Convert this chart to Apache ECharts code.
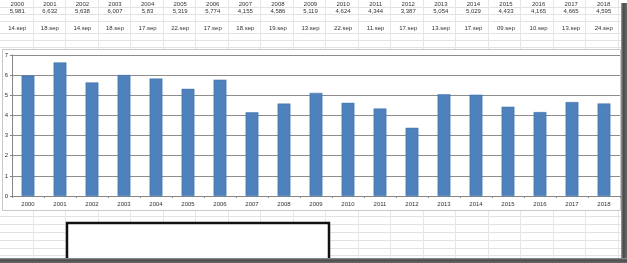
<!DOCTYPE html>
<html><head><meta charset="utf-8">
<script src="https://cdn.jsdelivr.net/npm/echarts@6/dist/echarts.min.js"></script>
<style>html,body{margin:0;padding:0;background:#fff}#c{width:627px;height:263px}</style>
</head><body><div id="c"></div>
<script>
const years = ['2000','2001','2002','2003','2004','2005','2006','2007','2008','2009','2010','2011','2012','2013','2014','2015','2016','2017','2018'];
const values = [5.981,6.632,5.638,6.007,5.83,5.319,5.774,4.155,4.586,5.119,4.624,4.344,3.387,5.054,5.029,4.433,4.165,4.665,4.595];
const dates = ['14.sep','18.sep','14.sep','18.sep','17.sep','22.sep','17.sep','18.sep','19.sep','13.sep','22.sep','11.sep','17.sep','13.sep','17.sep','09.sep','10.sep','13.sep','24.sep'];
const yTicks = [0,1,2,3,4,5,6,7];

const valueLabels = values.map(v => String(v).replace('.', ','));
const FONT = 'Liberation Sans';
const TXT = '#333';

// spreadsheet background lines
const g = [];
const rowYs = [7.5,14.5,21.5,33.5,40.5,47.5,216.5,224.5,232.5,240.5,248.5,255.5];
rowYs.forEach(y => g.push({type:'line', z:-5, shape:{x1:0,y1:y,x2:621,y2:y}, style:{stroke:'#e2e2e2',lineWidth:1}}));
for (let k=1;k<20;k++){ const x=Math.round(k*32.5)+0.5; g.push({type:'line', z:-5, shape:{x1:x,y1:0,x2:x,y2:258}, style:{stroke:'#e6e6e6',lineWidth:1}}); }
// chart area
g.push({type:'rect', z:-4, shape:{x:2.5,y:49.5,width:618,height:161}, style:{fill:'#fff',stroke:'#c8c8c8',lineWidth:1}});
// black box
g.push({type:'rect', z:20, shape:{x:67,y:223,width:262,height:40}, style:{fill:'#fff',stroke:'#111',lineWidth:2.5}});
// shadows
g.push({type:'rect', z:21, shape:{x:621,y:3,width:6,height:260}, style:{fill:{type:'linear',x:0,y:0,x2:1,y2:0,colorStops:[{offset:0,color:'#9a9a9a'},{offset:0.4,color:'#4a4a4a'},{offset:1,color:'#6a6a6a'}]}}});
g.push({type:'rect', z:21, shape:{x:0,y:258,width:627,height:5}, style:{fill:{type:'linear',x:0,y:0,x2:0,y2:1,colorStops:[{offset:0,color:'#9a9a9a'},{offset:0.4,color:'#4a4a4a'},{offset:1,color:'#6a6a6a'}]}}});

const headerRows = [
  {y:4, data: years},
  {y:11.5, data: valueLabels},
  {y:28.5, data: dates}
];

const grids = [{left:12, right:7, top:55, bottom:67}];
const xAxes = [{
  type:'category', data: years, gridIndex:0,
  axisLine:{lineStyle:{color:'#868686'}},
  axisTick:{show:true, alignWithLabel:false, length:2, lineStyle:{color:'#868686'}},
  axisLabel:{fontSize:6, fontFamily:FONT, color:TXT, margin:5}
}];
const yAxes = [{
  type:'value', gridIndex:0, min:0, max:7, interval:1,
  axisLine:{show:true, lineStyle:{color:'#868686'}},
  axisTick:{show:true, length:2, lineStyle:{color:'#868686'}},
  splitLine:{lineStyle:{color:'#8c8c8c', width:1}},
  axisLabel:{fontSize:6, fontFamily:FONT, color:TXT, margin:4,
    formatter: v => yTicks.includes(v) ? String(v) : ''}
}];
headerRows.forEach((r, i) => {
  grids.push({left:1, right:7, top:r.y - 1, height:1});
  xAxes.push({type:'category', data:r.data, gridIndex:i+1,
    axisLine:{show:false}, axisTick:{show:false}, splitLine:{show:false},
    axisLabel:{fontSize:6, fontFamily:FONT, color:TXT, margin:0, verticalAlign:'middle', interval:0}});
  yAxes.push({type:'value', gridIndex:i+1, show:false});
});

const chart = echarts.init(document.getElementById('c'), null, {renderer:'canvas'});
chart.setOption({
  animation:false,
  backgroundColor:'#fff',
  graphic:{elements:g},
  grid:grids, xAxis:xAxes, yAxis:yAxes,
  series:[{type:'bar', data:values, xAxisIndex:0, yAxisIndex:0, barWidth:'40%',
    itemStyle:{color:'#4f81bd', borderColor:'#3d6ea6', borderWidth:0.5}}]
});
</script></body></html>
